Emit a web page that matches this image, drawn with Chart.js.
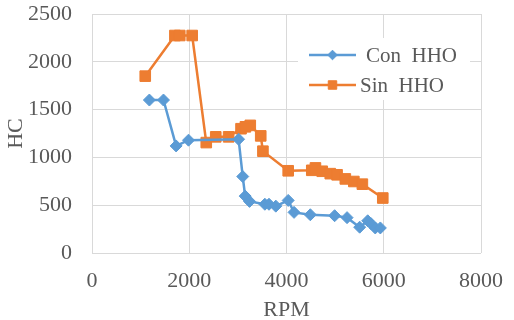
<!DOCTYPE html>
<html>
<head>
<meta charset="utf-8">
<script src="https://cdn.jsdelivr.net/npm/chart.js@4"></script>
<style>
  html, body { margin: 0; padding: 0; background: #fff; }
  #wrap { width: 514px; height: 320px; }
</style>
</head>
<body>
<div id="wrap"><canvas id="hcChart" width="514" height="320"></canvas></div>
<script>
// Datos (RPM vs HC)
const conRpm = [1180, 1470, 1730, 1985, 3015, 3100, 3150, 3240, 3555, 3640, 3780, 4035, 4155, 4490, 4990, 5245, 5505, 5670, 5740, 5825, 5930];
const conHc  = [1600, 1600, 1120, 1180, 1190, 800, 595, 540, 510, 510, 490, 550, 425, 400, 390, 370, 270, 337, 306, 262, 262];

const sinRpm = [1095, 1705, 1805, 2060, 2350, 2545, 2810, 3065, 3155, 3255, 3470, 3515, 4035, 4520, 4595, 4735, 4900, 5040, 5210, 5385, 5560, 5980];
const sinHc  = [1850, 2275, 2275, 2275, 1155, 1215, 1215, 1300, 1320, 1335, 1225, 1065, 860, 865, 890, 855, 830, 818, 775, 748, 720, 575];

const xTicks = [0, 2000, 4000, 6000, 8000];
const yTicks = [0, 500, 1000, 1500, 2000, 2500];

const FONT = { family: "'Liberation Serif', 'Times New Roman', serif", size: 22 };
const LEGEND_FONT_SIZE = 21;
const TEXT_COLOR = '#595959';
const GRID_COLOR = '#d9d9d9';

function toPoints(xs, ys) {
  return xs.map((x, i) => ({ x: x, y: ys[i] }));
}

// Leyenda dentro del área del gráfico (estilo Excel)
const insideLegend = {
  id: 'insideLegend',
  afterDraw(chart) {
    const ctx = chart.ctx;
    const area = chart.chartArea;
    const left = area.right - 183;
    const top = area.top + 24;
    ctx.save();
    ctx.fillStyle = '#fff';
    ctx.fillRect(left, top, 172, 62);
    ctx.font = LEGEND_FONT_SIZE + 'px ' + FONT.family;
    ctx.textBaseline = 'middle';
    chart.data.datasets.forEach((ds, i) => {
      const y = top + 17 + i * 30;
      const x1 = left + 11, x2 = left + 58;
      ctx.strokeStyle = ds.borderColor;
      ctx.lineWidth = 2.5;
      ctx.beginPath();
      ctx.moveTo(x1, y);
      ctx.lineTo(x2, y);
      ctx.stroke();
      ctx.fillStyle = ds.pointBackgroundColor;
      ctx.strokeStyle = ds.pointBorderColor;
      ctx.lineWidth = 1;
      Chart.helpers.drawPoint(ctx, {
        pointStyle: ds.pointStyle,
        radius: ds.pointRadius * 0.8,
        borderWidth: 1
      }, (x1 + x2) / 2, y);
      ctx.fillStyle = TEXT_COLOR;
      ctx.textAlign = 'left';
      ctx.fillText(ds.label, x2 + (i === 0 ? 10 : 4), y + 1);
    });
    ctx.restore();
  }
};

const ctx = document.getElementById('hcChart').getContext('2d');
const hcChart = new Chart(ctx, {
  type: 'scatter',
  data: {
    datasets: [{
      label: 'Con  HHO',
      data: toPoints(conRpm, conHc),
      showLine: true,
      borderColor: '#5b9bd5',
      backgroundColor: '#5b9bd5',
      pointBackgroundColor: '#5b9bd5',
      pointBorderColor: '#5b9bd5',
      borderWidth: 2.5,
      pointStyle: 'rectRot',
      pointRadius: 6,
      pointBorderWidth: 1,
      tension: 0
    }, {
      label: 'Sin  HHO',
      data: toPoints(sinRpm, sinHc),
      showLine: true,
      borderColor: '#ed7d31',
      backgroundColor: '#ed7d31',
      pointBackgroundColor: '#ed7d31',
      pointBorderColor: '#ed7d31',
      borderWidth: 2.5,
      pointStyle: 'rect',
      pointRadius: 7.5,
      pointBorderWidth: 1,
      tension: 0
    }]
  },
  options: {
    responsive: false,
    animation: false,
    layout: { autoPadding: false, padding: { top: 14, right: 33, left: 0, bottom: 0 } },
    plugins: {
      legend: { display: false },
      tooltip: { enabled: false }
    },
    scales: {
      x: {
        type: 'linear',
        min: xTicks[0],
        max: xTicks[xTicks.length - 1],
        afterBuildTicks: (s) => { s.ticks = xTicks.map(v => ({ value: v })); },
        afterFit: (s) => { s.height = 67; s.paddingLeft = 0; s.paddingRight = 0; },
        border: { display: false },
        grid: { color: GRID_COLOR, lineWidth: 1, drawTicks: false },
        ticks: { color: TEXT_COLOR, font: FONT, padding: 15, callback: (v) => String(v) },
        title: { display: true, text: 'RPM', color: TEXT_COLOR, font: FONT, padding: { top: 0, bottom: -3 } }
      },
      y: {
        type: 'linear',
        min: yTicks[0],
        max: yTicks[yTicks.length - 1],
        afterBuildTicks: (s) => { s.ticks = yTicks.map(v => ({ value: v })); },
        afterFit: (s) => { s.width = 92; s.paddingTop = 0; s.paddingBottom = 0; },
        border: { display: false },
        grid: { color: GRID_COLOR, lineWidth: 1, drawTicks: false },
        ticks: { color: TEXT_COLOR, font: FONT, padding: 20, callback: (v) => String(v) },
        title: { display: true, text: 'HC', color: TEXT_COLOR, font: FONT, padding: { top: 3, bottom: 0 } }
      }
    }
  },
  plugins: [insideLegend]
});
</script>
</body>
</html>
